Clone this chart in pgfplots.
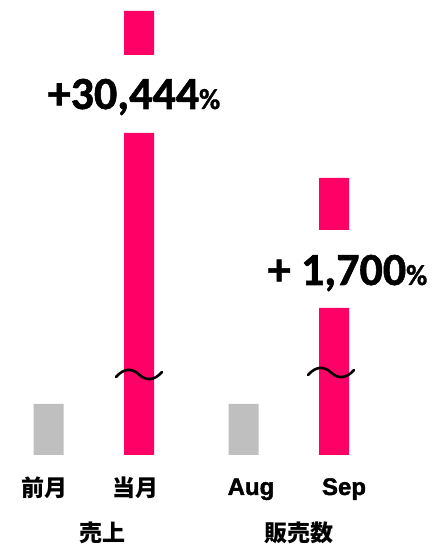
\documentclass[border=0pt]{standalone}
\usepackage{pgfplots}
\pgfplotsset{compat=1.18}
\usepackage{fontspec}
\setmainfont{Carlito}[BoldFeatures={FakeBold=1.2}]
\newfontfamily\cjk{Noto Sans CJK JP}[BoldFont={* Black}]
\newfontfamily\lat{Liberation Sans}[BoldFeatures={FakeBold=1.6}]
\definecolor{pinkbar}{HTML}{FF0066}
\definecolor{graybar}{HTML}{BFBFBF}
\begin{document}
\begin{tikzpicture}
\begin{axis}[
  width=434bp, height=548bp, scale only axis,
  xmin=0, xmax=434, ymin=-93, ymax=455,
  axis lines=none, ticks=none, clip=false,
  ybar stacked, bar width=30,
]
% frame the full picture area (invisible)
\path (axis cs:0,-93) rectangle (axis cs:434,455);
% gray bars (previous period)
\addplot[fill=graybar, draw=none] coordinates {(48.5,51) (139,0) (243.5,51) (334,0)};
% pink lower segment
\addplot[fill=pinkbar, draw=none] coordinates {(48.5,0) (139,322) (243.5,0) (334,147)};
% gap (axis break)
\addplot[fill=none, draw=none] coordinates {(48.5,0) (139,78) (243.5,0) (334,78)};
% pink upper segment
\addplot[fill=pinkbar, draw=none] coordinates {(48.5,0) (139,44) (243.5,0) (334,52)};

% anchor points for break marks
\coordinate (a0) at (axis cs:116,78);
\coordinate (a1) at (axis cs:124,87);
\coordinate (a2) at (axis cs:132,87);
\coordinate (a3) at (axis cs:139,80.5);
\coordinate (a4) at (axis cs:146,74);
\coordinate (a5) at (axis cs:154,74);
\coordinate (a6) at (axis cs:162,83);
\coordinate (b0) at (axis cs:308,80);
\coordinate (b1) at (axis cs:316,89);
\coordinate (b2) at (axis cs:324,89);
\coordinate (b3) at (axis cs:331,82.5);
\coordinate (b4) at (axis cs:338,76);
\coordinate (b5) at (axis cs:346,76);
\coordinate (b6) at (axis cs:354,85);

% value labels
\node[anchor=base, inner sep=0pt, font=\bfseries\fontsize{46bp}{46bp}\selectfont] at (axis cs:134,346)
  {+30,444{\fontsize{29bp}{29bp}\selectfont\%}};
\node[anchor=base, inner sep=0pt, font=\bfseries\fontsize{46bp}{46bp}\selectfont] at (axis cs:347.5,170)
  {+ 1,700{\fontsize{29bp}{29bp}\selectfont\%}};

% category labels
\node[anchor=center, inner sep=0pt, font=\cjk\bfseries\fontsize{23bp}{23bp}\selectfont] at (axis cs:44,-33) {前月};
\node[anchor=center, inner sep=0pt, font=\cjk\bfseries\fontsize{23bp}{23bp}\selectfont] at (axis cs:135,-33) {当月};
\node[anchor=base, inner sep=0pt, font=\lat\bfseries\fontsize{24bp}{24bp}\selectfont] at (axis cs:251,-40) {Aug};
\node[anchor=base, inner sep=0pt, font=\lat\bfseries\fontsize{24bp}{24bp}\selectfont] at (axis cs:344,-40) {Sep};
% group labels
\node[anchor=center, inner sep=0pt, font=\cjk\bfseries\fontsize{23bp}{23bp}\selectfont] at (axis cs:102,-78) {売上};
\node[anchor=center, inner sep=0pt, font=\cjk\bfseries\fontsize{23bp}{23bp}\selectfont] at (axis cs:298.5,-78) {販売数};
\end{axis}
% break marks drawn on top of the bars
\draw[line width=2.6bp, black, line cap=round] (a0) .. controls (a1) and (a2) .. (a3) .. controls (a4) and (a5) .. (a6);
\draw[line width=2.6bp, black, line cap=round] (b0) .. controls (b1) and (b2) .. (b3) .. controls (b4) and (b5) .. (b6);
\end{tikzpicture}
\end{document}
